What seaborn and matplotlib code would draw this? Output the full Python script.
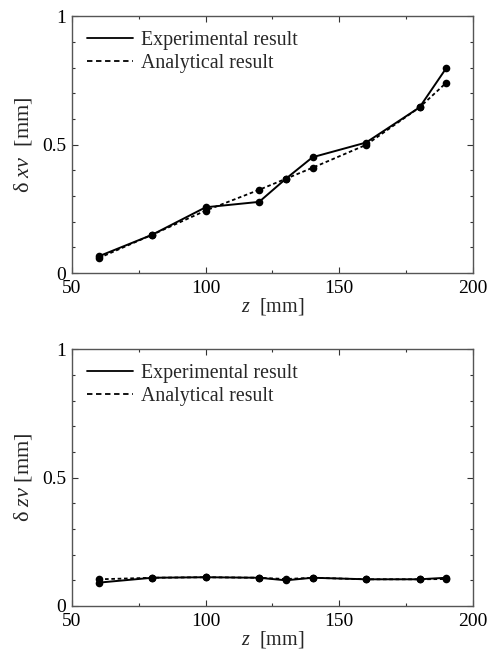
import pandas as pd
import matplotlib
matplotlib.use('Agg')
import matplotlib.pyplot as plt
from matplotlib.lines import Line2D
from matplotlib.ticker import MultipleLocator
import seaborn as sns

# data
z = [60, 80, 100, 120, 130, 140, 160, 180, 190]
xv_exp = [0.065, 0.149, 0.256, 0.277, 0.367, 0.451, 0.508, 0.645, 0.798]
xv_ana = [0.058, 0.149, 0.243, 0.324, 0.367, 0.410, 0.499, 0.645, 0.741]
zv_exp = [0.091, 0.110, 0.112, 0.110, 0.100, 0.110, 0.104, 0.104, 0.110]
zv_ana = [0.104, 0.110, 0.112, 0.110, 0.105, 0.110, 0.104, 0.104, 0.105]

sns.set_theme(style='ticks')
plt.rcParams['font.family'] = ['Liberation Serif', 'DejaVu Serif']
plt.rcParams['mathtext.fontset'] = 'custom'
plt.rcParams['mathtext.rm'] = 'Liberation Serif'
plt.rcParams['mathtext.it'] = 'Liberation Serif:italic'

fig = plt.figure(figsize=(4.91, 6.5), dpi=100)
ax1 = fig.add_axes([0.1466, 0.58, 0.8167, 0.395])
ax2 = fig.add_axes([0.1466, 0.0677, 0.8167, 0.395])

panels = [(ax1, xv_exp, xv_ana, r'$\mathrm{\delta}\ \mathit{xv}$  [mm]'),
          (ax2, zv_exp, zv_ana, r'$\mathrm{\delta}\ \mathit{zv}$ [mm]')]

for ax, exp, ana, ylab in panels:
    df = pd.DataFrame({'z': z, 'exp': exp, 'ana': ana})
    sns.lineplot(data=df, x='z', y='exp', ax=ax, color='black', lw=1.4,
                 marker='o', markersize=5.5, markeredgewidth=0)
    sns.lineplot(data=df, x='z', y='ana', ax=ax, color='black', lw=1.3,
                 linestyle=(0, (2, 1.5)), marker='o', markersize=5.5,
                 markeredgewidth=0)
    ax.set_xlim(50, 200)
    ax.set_ylim(0, 1)
    ax.xaxis.set_minor_locator(MultipleLocator(25))
    ax.yaxis.set_minor_locator(MultipleLocator(0.1))
    ax.set_xticks([50, 100, 150, 200], ['50', '100', '150', '200'])
    ax.set_yticks([0, 0.5, 1], ['0', '0.5', '1'])
    ax.tick_params(which='both', direction='in', top=True, right=True,
                   colors='#333333', labelcolor='black', labelsize=14)
    ax.tick_params(axis='x', pad=5)
    ax.tick_params(axis='y', pad=4)
    ax.tick_params(which='major', length=4, width=0.8)
    ax.tick_params(which='minor', length=2.5, width=0.8)
    for s in ax.spines.values():
        s.set_color('#555555')
        s.set_linewidth(1.0)
    ax.set_xlabel(r'$\mathit{z}$  [mm]', fontsize=14.5, labelpad=-1)
    ax.set_ylabel(ylab, fontsize=16, labelpad=6)
    handles = [Line2D([], [], color='black', lw=1.3),
               Line2D([], [], color='black', lw=1.3, linestyle=(0, (3, 2)))]
    ax.legend(handles, ['Experimental result', 'Analytical result'],
              loc='upper left', frameon=False, fontsize=14.3,
              handlelength=2.3, handletextpad=0.4, labelspacing=0.2,
              borderaxespad=0.35, borderpad=0.4)

fig.savefig('out.png', dpi=100)
